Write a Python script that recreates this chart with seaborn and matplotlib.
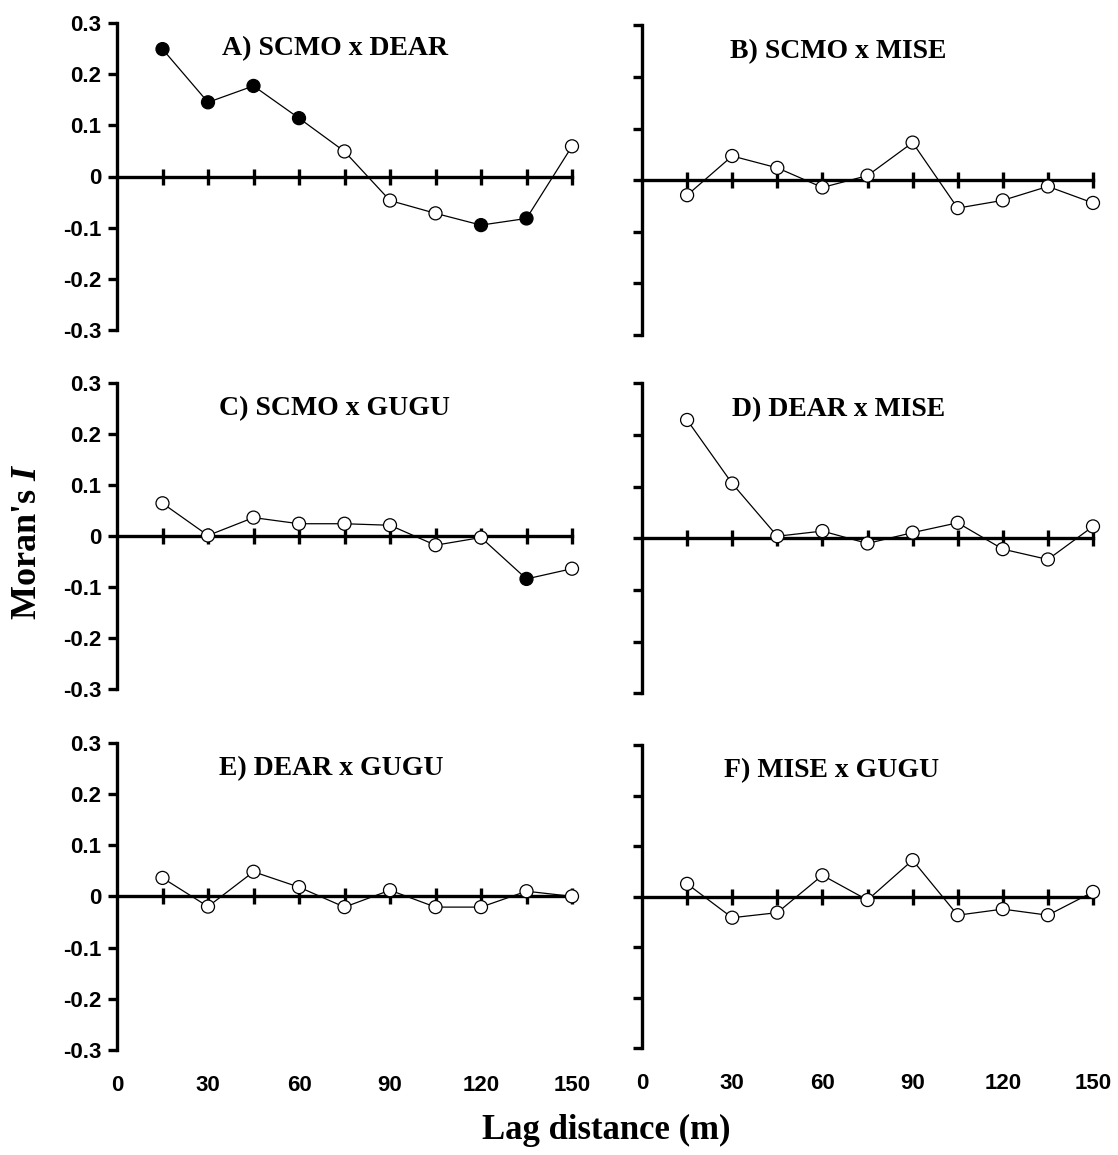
import matplotlib
matplotlib.use("Agg")
import matplotlib.pyplot as plt
import matplotlib.transforms as mtransforms
import numpy as np
import pandas as pd
import seaborn as sns

# ---------------- data ----------------
lags = [15, 30, 45, 60, 75, 90, 105, 120, 135, 150]
titles = ["A) SCMO x DEAR", "B) SCMO x MISE", "C) SCMO x GUGU",
          "D) DEAR x MISE", "E) DEAR x GUGU", "F) MISE x GUGU"]

a_vals = [0.249, 0.145, 0.177, 0.114, 0.049, -0.047, -0.072, -0.095, -0.082, 0.059]
a_sig = [1, 1, 1, 1, 0, 0, 0, 1, 1, 0]
b_vals = [-0.029, 0.047, 0.024, -0.014, 0.009, 0.073, -0.054, -0.039, -0.012, -0.044]
b_sig = [0, 0, 0, 0, 0, 0, 0, 0, 0, 0]
c_vals = [0.064, 0.001, 0.036, 0.024, 0.024, 0.021, -0.018, -0.003, -0.084, -0.064]
c_sig = [0, 0, 0, 0, 0, 0, 0, 0, 1, 0]
d_vals = [0.229, 0.106, 0.004, 0.014, -0.010, 0.011, 0.030, -0.021, -0.041, 0.023]
d_sig = [0, 0, 0, 0, 0, 0, 0, 0, 0, 0]
e_vals = [0.036, -0.020, 0.048, 0.018, -0.021, 0.012, -0.021, -0.021, 0.010, 0.000]
e_sig = [0, 0, 0, 0, 0, 0, 0, 0, 0, 0]
f_vals = [0.025, -0.042, -0.032, 0.042, -0.007, 0.072, -0.037, -0.025, -0.037, 0.009]
f_sig = [0, 0, 0, 0, 0, 0, 0, 0, 0, 0]

y_ticks = [-0.3, -0.2, -0.1, 0.0, 0.1, 0.2, 0.3]
y_ticklabels = ["-0.3", "-0.2", "-0.1", "0", "0.1", "0.2", "0.3"]
x_ticklabels_pos = [0, 30, 60, 90, 120, 150]
x_ticklabels = ["0", "30", "60", "90", "120", "150"]

all_vals = [a_vals, b_vals, c_vals, d_vals, e_vals, f_vals]
all_sig = [a_sig, b_sig, c_sig, d_sig, e_sig, f_sig]

rows = []
for t, vals, sig in zip(titles, all_vals, all_sig):
    for lg, v, s in zip(lags, vals, sig):
        rows.append({"panel": t, "lag": lg, "I": v,
                     "sig": "sig" if s else "ns"})
df = pd.DataFrame(rows)

# ---------------- style ----------------
sns.set_style("ticks")
plt.rcParams["font.family"] = ["Liberation Sans", "DejaVu Sans"]
plt.rcParams["text.color"] = "black"
plt.rcParams["axes.labelcolor"] = "black"
plt.rcParams["xtick.color"] = "black"
plt.rcParams["ytick.color"] = "black"
plt.rcParams["axes.edgecolor"] = "black"
plt.rcParams["mathtext.fontset"] = "custom"
plt.rcParams["mathtext.rm"] = "Liberation Serif:bold"
plt.rcParams["mathtext.bfit"] = "Liberation Serif:italic:bold"
plt.rcParams["mathtext.it"] = "Liberation Serif:italic:bold"

W, H = 1118, 1155
fig = plt.figure(figsize=(W / 100, H / 100), dpi=100)

# pixel boxes: left, right, top, bottom
boxes = [
    (117, 572, 23, 330),
    (642, 1093, 25.5, 335),
    (117, 572, 382.7, 689.3),
    (642, 1093, 383.3, 693.3),
    (117, 572, 742.7, 1050),
    (642, 1093, 745, 1048),
]
title_x = [0.48, 0.435, 0.478, 0.435, 0.47, 0.42]

LW = 2.4
for i, (t, box) in enumerate(zip(titles, boxes)):
    l, r, tp, bt = box
    ax = fig.add_axes([l / W, 1 - bt / H, (r - l) / W, (bt - tp) / H])
    d = df[df["panel"] == t]
    sns.lineplot(data=d, x="lag", y="I", ax=ax, color="black", lw=0.9,
                 estimator=None, sort=False, legend=False, zorder=3,
                 clip_on=False)
    sns.scatterplot(data=d, x="lag", y="I", hue="sig",
                    palette={"sig": "black", "ns": "white"},
                    edgecolor="black", linewidth=0.9, s=88, ax=ax,
                    legend=False, zorder=4, clip_on=False)
    ax.set_xlim(0, 150)
    ax.set_ylim(-0.3, 0.3)
    ax.set_xlabel("")
    ax.set_ylabel("")
    for sp in ["top", "right"]:
        ax.spines[sp].set_visible(False)
    ax.spines["bottom"].set_position(("data", 0))
    for sp in ["left", "bottom"]:
        ax.spines[sp].set_linewidth(LW)
        ax.spines[sp].set_color("black")
        ax.spines[sp].set_capstyle("projecting")
    ax.set_xticks(lags)
    ax.tick_params(axis="x", which="major", bottom=True, direction="inout",
                   length=12, width=LW, color="black", labelbottom=False)
    ax.set_yticks(y_ticks)
    if i % 2 == 0:
        ax.set_yticklabels(y_ticklabels, fontsize=16, fontweight="bold")
    else:
        ax.set_yticklabels([])
    ax.tick_params(axis="y", which="major", left=True, direction="out",
                   length=6.5, width=LW, color="black", pad=5)
    trans = mtransforms.blended_transform_factory(ax.transAxes, ax.transData)
    ax.text(title_x[i], 0.25, t, transform=trans, ha="center", va="center",
            fontsize=20, fontweight="bold", family="Liberation Serif")
    if i >= 4:
        sec = ax.secondary_xaxis("bottom")
        sec.spines["bottom"].set_visible(False)
        sec.set_xticks(x_ticklabels_pos)
        sec.set_xticklabels(x_ticklabels, fontsize=16, fontweight="bold")
        sec.tick_params(axis="x", length=0, pad=18)

fig.text(27 / W, 1 - 542 / H, r"Moran's $\mathbfit{I}$", rotation=90,
         ha="center", va="center", fontsize=26, fontweight="bold",
         family="Liberation Serif")
fig.text(606 / W, 1 - 1130 / H, "Lag distance (m)", ha="center",
         va="center", fontsize=25, fontweight="bold",
         family="Liberation Serif")

fig.savefig("out.png", dpi=100, facecolor="white")
